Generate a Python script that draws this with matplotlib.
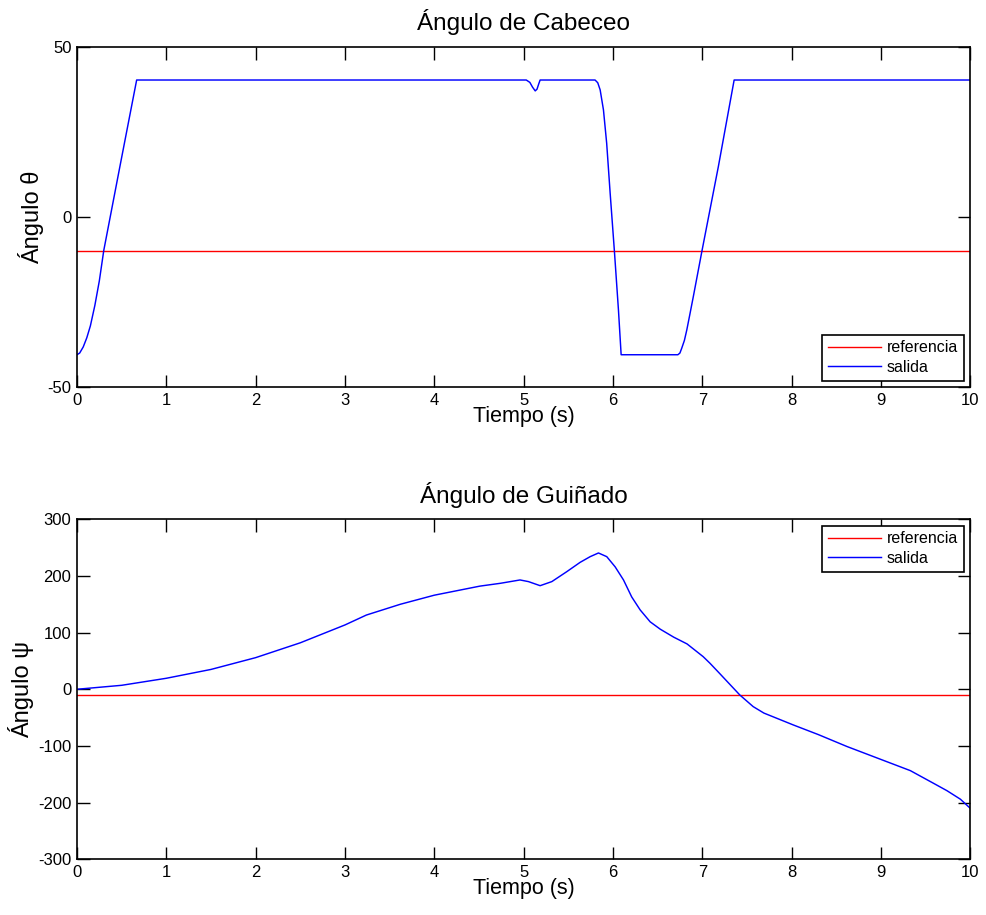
import numpy as np
import matplotlib
matplotlib.use('Agg')
import matplotlib.pyplot as plt

plt.rcParams['font.family'] = ['Liberation Sans', 'DejaVu Sans']
plt.rcParams['axes.unicode_minus'] = False

# angulo de cabeceo (theta)
t_cab = [0, 0.03, 0.07, 0.11, 0.15, 0.2, 0.25, 0.3, 0.48, 0.668,
         5.03, 5.07, 5.10, 5.13, 5.15, 5.17, 5.185,
         5.80, 5.83, 5.857, 5.894, 5.93, 5.969, 6.017, 6.062, 6.092,
         6.727, 6.75, 6.77, 6.80, 6.827, 6.86, 6.90, 6.995, 7.18, 7.357, 10]
cab = [-40.5, -40.0, -38.2, -35.5, -32.0, -26.0, -18.8, -9.8, 14.8, 40.3,
       40.3, 39.6, 38.2, 37.1, 37.6, 39.2, 40.3,
       40.3, 39.5, 37.4, 31.5, 21.7, 7.0, -10.2, -27.4, -40.5,
       -40.5, -40.0, -38.6, -36.3, -33.2, -28.8, -23.4, -10.2, 14.8, 40.3, 40.3]
ref_cab = -10

# angulo de guinado (psi)
t_gui = [0, 0.5, 1.0, 1.5, 2.0, 2.5, 3.0, 3.24, 3.62, 4.0, 4.51, 4.74, 4.96, 5.054,
         5.185, 5.316, 5.484, 5.633, 5.745, 5.838, 5.931, 6.025, 6.118, 6.21, 6.305,
         6.417, 6.53, 6.68, 6.83, 7.01, 7.087, 7.2, 7.42, 7.57, 7.69, 8.02, 8.3,
         8.62, 9.02, 9.33, 9.59, 9.74, 9.89, 10.0]
gui = [0, 7, 19.4, 35, 55.8, 82, 113.5, 131, 150, 166, 182, 187, 192.9, 190,
       182.8, 190, 207.6, 224, 234, 240.5, 234, 216, 193, 163, 140,
       119, 106, 92, 80, 57.6, 45.8, 27, -10, -30.6, -42, -63, -80,
       -101, -125, -143.6, -166, -179, -194, -210]
ref_gui = -10

fig = plt.figure(figsize=(9.87, 9.15), dpi=100)
ax1 = fig.add_axes([0.078, 0.577, 0.905, 0.3716])
ax2 = fig.add_axes([0.078, 0.0609, 0.905, 0.3716])

for ax, t, y, ref, ylim, yticks, titulo, ylab, ylx, loc in [
        (ax1, t_cab, cab, ref_cab, (-50, 50), [-50, 0, 50],
         'Ángulo de Cabeceo', 'Ángulo θ', -0.037, 'lower right'),
        (ax2, t_gui, gui, ref_gui, (-300, 300), np.arange(-300, 301, 100),
         'Ángulo de Guiñado', 'Ángulo ψ', -0.048, 'upper right')]:
    ax.plot([0, 10], [ref, ref], color='red', lw=1.0, label='referencia')
    ax.plot(t, y, color='blue', lw=1.05, label='salida')
    ax.set_xlim(0, 10)
    ax.set_ylim(*ylim)
    ax.set_xticks(range(11))
    ax.set_yticks(yticks)
    ax.tick_params(direction='in', length=9, width=1, top=True, right=True,
                   labelsize=12, pad=4)
    for s in ax.spines.values():
        s.set_linewidth(1.2)
    ax.set_title(titulo, fontsize=17.5, pad=12)
    ax.set_xlabel('Tiempo (s)', fontsize=15.5, labelpad=-1)
    ax.set_ylabel(ylab, fontsize=17)
    ax.yaxis.set_label_coords(ylx, 0.5)
    leg = ax.legend(loc=loc, fontsize=11.5, fancybox=False, framealpha=1,
                    edgecolor='black', borderaxespad=0.4, handlelength=3.3,
                    borderpad=0.35, labelspacing=0.3, handletextpad=0.4)
    leg.get_frame().set_linewidth(1.2)

fig.savefig('out.png', dpi=100)
